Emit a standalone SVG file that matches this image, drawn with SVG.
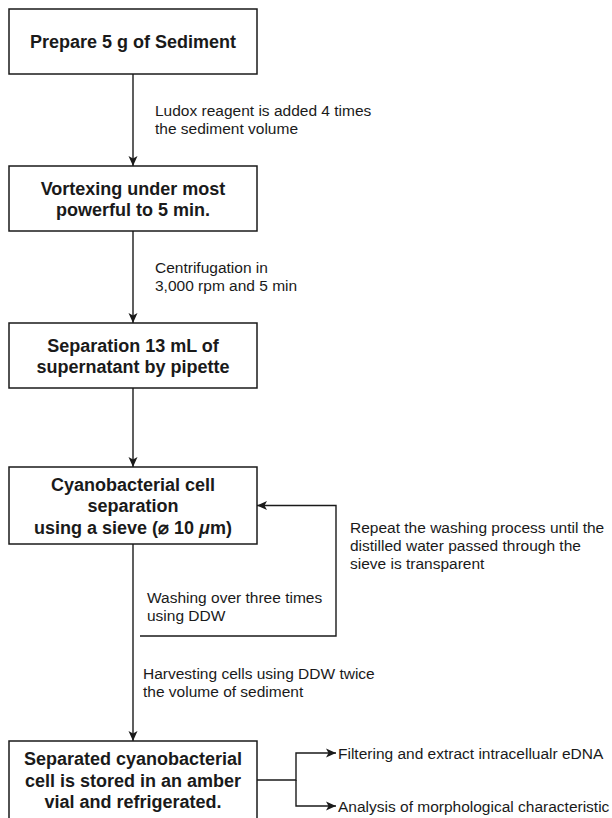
<svg xmlns="http://www.w3.org/2000/svg" width="612" height="818" viewBox="0 0 612 818">
  <style>
    .box { fill: #ffffff; stroke: #1a1a1a; stroke-width: 1.5; }
    .title { font-family: "Liberation Sans", Arial, sans-serif; font-size: 18px; font-weight: bold; fill: #1a1a1a; text-anchor: middle; }
    .lbl { font-family: "Liberation Sans", Arial, sans-serif; font-size: 15.5px; fill: #1a1a1a; }
    .edge { fill: none; stroke: #1a1a1a; stroke-width: 1.4; }
  </style>
  <defs>
    <marker id="arr" markerUnits="userSpaceOnUse" markerWidth="12" markerHeight="12" viewBox="0 0 12 12" refX="11" refY="6" orient="auto">
      <path d="M1,1.5 L11,6 L1,10.5 L3.5,6 Z" fill="#1a1a1a"/>
    </marker>
  </defs>
  <rect width="612" height="818" fill="#ffffff"/>

  <g id="connectors">
    <path class="edge" d="M133,74 V166" marker-end="url(#arr)"/>
    <path class="edge" d="M133,231 V323" marker-end="url(#arr)"/>
    <path class="edge" d="M133,388 V467" marker-end="url(#arr)"/>
    <path class="edge" d="M133,544 V741" marker-end="url(#arr)"/>
    <path class="edge" d="M140,636 H336 V505.5 H257" marker-end="url(#arr)"/>
    <path class="edge" d="M257,780 H296 V753 H336" marker-end="url(#arr)"/>
    <path class="edge" d="M296,780 V806 H336" marker-end="url(#arr)"/>
  </g>

  <g id="labels">
    <text class="lbl" x="155" y="116">Ludox reagent is added 4 times</text>
    <text class="lbl" x="155" y="134">the sediment volume</text>
    <text class="lbl" x="155" y="272.5">Centrifugation in</text>
    <text class="lbl" x="155" y="291">3,000 rpm and 5 min</text>
    <text class="lbl" x="350" y="533">Repeat the washing process until the</text>
    <text class="lbl" x="350" y="551">distilled water passed through the</text>
    <text class="lbl" x="350" y="569">sieve is transparent</text>
    <text class="lbl" x="147" y="603">Washing over three times</text>
    <text class="lbl" x="147" y="621">using DDW</text>
    <text class="lbl" x="143" y="679">Harvesting cells using DDW twice</text>
    <text class="lbl" x="143" y="697">the volume of sediment</text>
    <text class="lbl" x="338" y="758.5">Filtering and extract intracellualr eDNA</text>
    <text class="lbl" x="338" y="811.5">Analysis of morphological characteristic</text>
  </g>

  <g id="node1">
    <rect class="box" x="9" y="9" width="248" height="65"/>
    <text class="title" x="133" y="48">Prepare 5 g of Sediment</text>
  </g>
  <g id="node2">
    <rect class="box" x="9" y="166" width="248" height="65"/>
    <text class="title" x="133" y="194.5">Vortexing under most</text>
    <text class="title" x="133" y="216">powerful to 5 min.</text>
  </g>
  <g id="node3">
    <rect class="box" x="9" y="323" width="248" height="65"/>
    <text class="title" x="133" y="351.5">Separation 13 mL of</text>
    <text class="title" x="133" y="373">supernatant by pipette</text>
  </g>
  <g id="node4">
    <rect class="box" x="9" y="467" width="248" height="77"/>
    <text class="title" x="133" y="490.5">Cyanobacterial cell</text>
    <text class="title" x="133" y="512">separation</text>
    <text class="title" x="133" y="533.5">using a sieve (⌀ 10 <tspan font-style="italic">μ</tspan>m)</text>
  </g>
  <g id="node5">
    <rect class="box" x="9" y="741" width="248" height="78"/>
    <text class="title" x="133" y="765">Separated cyanobacterial</text>
    <text class="title" x="133" y="786.5">cell is stored in an amber</text>
    <text class="title" x="133" y="808">vial and refrigerated.</text>
  </g>
</svg>
